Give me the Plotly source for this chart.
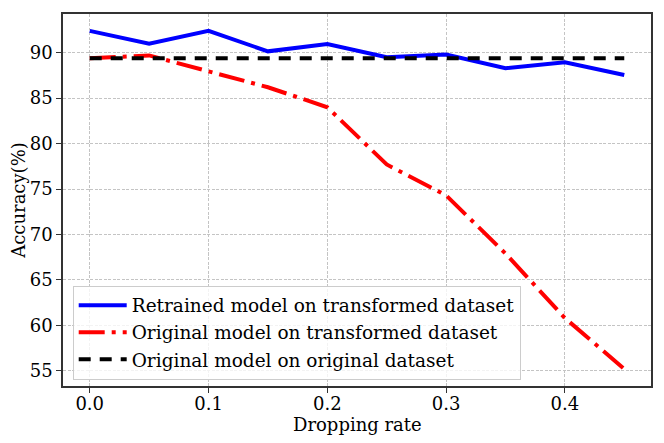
import plotly.graph_objects as go

# Dropping rate on the x axis
drop_rate = [0.0, 0.05, 0.1, 0.15, 0.2, 0.25, 0.3, 0.35, 0.4, 0.45]

# Accuracy (%)
retrained_transformed = [92.4, 91.0, 92.4, 90.15, 90.95, 89.5, 89.8, 88.3, 88.95, 87.55]
original_transformed = [89.4, 89.7, 87.95, 86.2, 84.0, 77.7, 74.3, 67.9, 60.8, 55.2]
original_original = [89.4] * len(drop_rate)

x_ticks = [0.0, 0.1, 0.2, 0.3, 0.4]
y_ticks = [55, 60, 65, 70, 75, 80, 85, 90]

FONT = "DejaVu Serif, Liberation Serif, serif"

fig = go.Figure()

fig.add_trace(go.Scatter(
    x=drop_rate, y=retrained_transformed,
    mode='lines', name='Retrained model on transformed dataset',
    line=dict(color='blue', width=4),
    legendgroup='a'
))

fig.add_trace(go.Scatter(
    x=drop_rate, y=original_transformed,
    mode='lines', name='Original model on transformed dataset',
    line=dict(color='red', width=4, dash='26px,7px,4px,7px'),
    legendgroup='b'
))

fig.add_trace(go.Scatter(
    x=drop_rate, y=original_original,
    mode='lines', name='Original model on original dataset',
    line=dict(color='black', width=4, dash='12px,9px'),
    legendgroup='c'
))

axis_style = dict(
    showline=True, linecolor='#333333', linewidth=1.5, mirror=True,
    ticks='outside', ticklen=5, tickwidth=1.2, tickcolor='#333333',
    showgrid=True, gridcolor='#c4c4c4', griddash='3px,1.5px', gridwidth=1,
    zeroline=False, automargin=False,
    tickfont=dict(family=FONT, size=18, color='black'),
)

fig.update_xaxes(range=[-0.0225, 0.4725], tickvals=x_ticks, tickformat='.1f',
                 ticklabelstandoff=-4, **axis_style)
fig.update_yaxes(range=[53.32, 94.26], tickvals=y_ticks, **axis_style)

# axis titles as annotations so they sit where the original has them
fig.add_annotation(
    text='Dropping rate', xref='paper', yref='paper', x=0.5, y=-0.104,
    xanchor='center', yanchor='middle', showarrow=False,
    font=dict(family=FONT, size=18, color='black')
)
fig.add_annotation(
    text='Accuracy(%)', xref='paper', yref='paper', x=-0.077, y=0.5,
    xanchor='center', yanchor='middle', textangle=-90, showarrow=False,
    font=dict(family=FONT, size=18, color='black')
)

fig.update_layout(
    width=664, height=443,
    template='plotly_white',
    paper_bgcolor='white', plot_bgcolor='white',
    margin=dict(l=63, r=13, t=14, b=57),
    font=dict(family=FONT, size=18, color='black'),
    legend=dict(
        x=0.0165, y=0.017, xanchor='left', yanchor='bottom',
        bgcolor='rgba(255,255,255,0.8)', bordercolor='#cccccc', borderwidth=1,
        font=dict(family=FONT, size=18.5, color='black'),
        traceorder='grouped', tracegroupgap=0, itemwidth=48,
    ),
    showlegend=True,
)

# drop the browser's default page margin so the figure sits at the top-left corner
fig.write_html("out.html", config={'displayModeBar': False},
               post_script="document.body.style.margin='0';")
